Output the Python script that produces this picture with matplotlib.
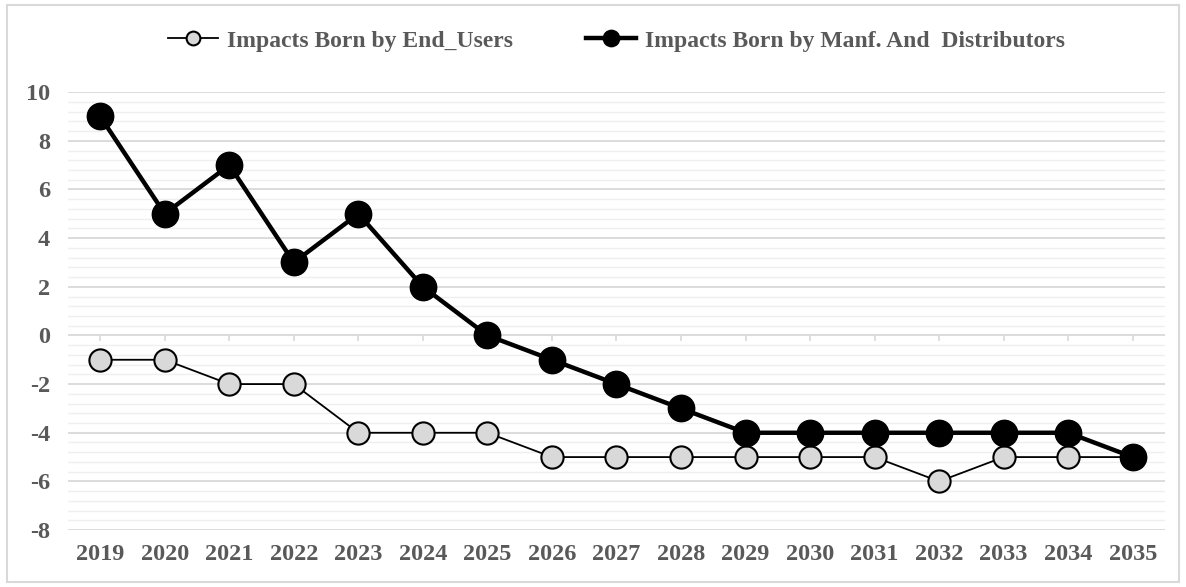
import numpy as np
import matplotlib.pyplot as plt
from matplotlib.patches import Rectangle

plt.rcParams['font.family'] = ['Liberation Serif', 'DejaVu Serif']
plt.rcParams['font.weight'] = 'bold'
plt.rcParams['axes.unicode_minus'] = False

years = ['2019', '2020', '2021', '2022', '2023', '2024', '2025', '2026', '2027',
         '2028', '2029', '2030', '2031', '2032', '2033', '2034', '2035']
end_users = [-1, -1, -2, -2, -4, -4, -4, -5, -5, -5, -5, -5, -5, -6, -5, -5, -5]
manf_dist = [9, 5, 7, 3, 5, 2, 0, -1, -2, -3, -4, -4, -4, -4, -4, -4, -5]

txt_color = '#595959'

fig = plt.figure(figsize=(11.86, 5.87), dpi=100)
ax = fig.add_axes([0.0573, 0.097, 0.9250, 0.746])

x = np.arange(len(years))

ax.plot(x, end_users, color='black', lw=1.3, marker='o', ms=16,
        mfc='#d9d9d9', mec='black', mew=1.5, zorder=3,
        label='Impacts Born by End_Users')
ax.plot(x, manf_dist, color='black', lw=3.2, marker='o', ms=19,
        mfc='black', mec='black', zorder=4,
        label='Impacts Born by Manf. And  Distributors')

ax.set_xlim(-0.5, len(years) - 0.5)
ax.set_ylim(-8, 10)
ax.set_yticks(np.arange(-8, 11, 2))
ax.set_yticks(np.arange(-8, 10.01, 0.4), minor=True)
ax.set_xticks(x)
ax.set_xticklabels(years)

ax.grid(axis='y', which='major', color='#d9d9d9', lw=1.3)
ax.grid(axis='y', which='minor', color='#efefef', lw=1.0)
ax.set_axisbelow(True)
for s in ax.spines.values():
    s.set_visible(False)
ax.tick_params(axis='both', which='both', length=0, labelsize=17.5,
               labelcolor=txt_color)
ax.tick_params(axis='y', pad=13)
ax.tick_params(axis='x', pad=10)

# small ticks on the zero line
sec = ax.secondary_xaxis(8 / 18)
sec.set_xticks(x)
sec.set_xticklabels([])
sec.tick_params(length=4, color='#d9d9d9', width=1.2, direction='out')
sec.spines['bottom'].set_visible(False)

ax.legend(loc='center', bbox_to_anchor=(0.5, 1.117), ncol=2, frameon=False,
          fontsize=17, labelcolor=txt_color, handlelength=2.1,
          handletextpad=0.38, columnspacing=3.1, markerscale=0.62)

fig.patches.append(Rectangle((0.006, 0.008), 0.988, 0.984, transform=fig.transFigure,
                             fill=False, ec='#d9d9d9', lw=1.5))

fig.savefig('out.png', dpi=100)
